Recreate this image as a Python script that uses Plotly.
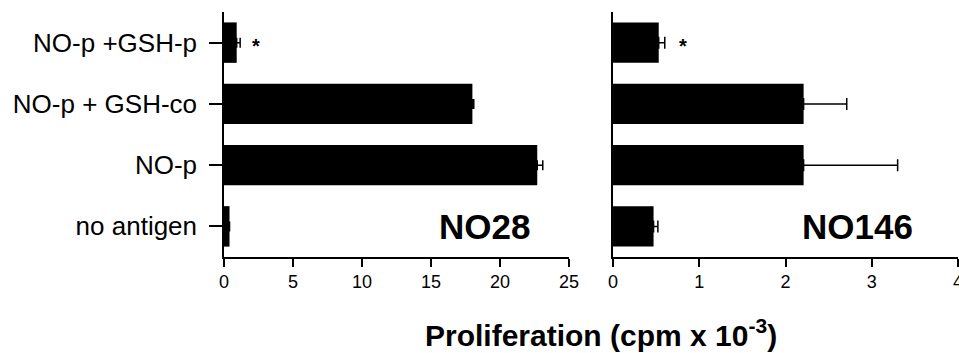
import plotly.graph_objects as go

categories = ["no antigen", "NO-p", "NO-p + GSH-co", "NO-p +GSH-p"]
no28_values = [0.4, 22.7, 18.0, 0.92]
no28_errors = [0.0, 0.4, 0.1, 0.25]
no146_values = [0.47, 2.21, 2.21, 0.53]
no146_errors = [0.05, 1.09, 0.5, 0.07]
no28_ticks = [0, 5, 10, 15, 20, 25]
no146_ticks = [0, 1, 2, 3, 4]

FONT = "Liberation Sans, Arial, sans-serif"

fig = go.Figure()
fig.add_trace(go.Bar(
    x=no28_values, y=categories, orientation="h", width=0.66,
    marker=dict(color="black", line=dict(width=0)),
    error_x=dict(type="data", array=no28_errors, arrayminus=[0]*4, symmetric=False,
                 color="black", thickness=1.5, width=5),
    xaxis="x", yaxis="y", showlegend=False))
fig.add_trace(go.Bar(
    x=no146_values, y=categories, orientation="h", width=0.66,
    marker=dict(color="black", line=dict(width=0)),
    error_x=dict(type="data", array=no146_errors, arrayminus=[0]*4, symmetric=False,
                 color="black", thickness=1.5, width=6),
    xaxis="x2", yaxis="y2", showlegend=False))

axis_common = dict(showline=True, linecolor="black", linewidth=1.5, showgrid=False,
                   zeroline=False, ticks="outside", tickcolor="black", tickwidth=1.5,
                   ticklen=8, automargin=False, ticklabeloverflow="allow",
                   tickfont=dict(family=FONT, size=18, color="black"))

fig.update_layout(
    width=959, height=353, autosize=False,
    margin=dict(l=224, r=1, t=12, b=96, autoexpand=False),
    plot_bgcolor="white", paper_bgcolor="white",
    bargap=0.34,
    xaxis=dict(domain=[0, 0.47], range=[0, 25], tickvals=no28_ticks, **axis_common),
    xaxis2=dict(domain=[0.53, 1], range=[0, 4], tickvals=no146_ticks, anchor="y2", **axis_common),
    yaxis=dict(range=[-0.5, 3.5], showline=True, linecolor="black", linewidth=1.5,
               showgrid=False, zeroline=False, ticks="outside", tickcolor="black",
               tickwidth=1.5, ticklen=13, ticklabelstandoff=7, automargin=False,
               tickfont=dict(family=FONT, size=26, color="black"),
               categoryorder="array", categoryarray=categories, anchor="x"),
    yaxis2=dict(range=[-0.5, 3.5], showline=True, linecolor="black", linewidth=1.5,
                showgrid=False, zeroline=False, ticks="", showticklabels=False,
                automargin=False,
                categoryorder="array", categoryarray=categories, anchor="x2"),
)

fig.add_annotation(text="<b>NO28</b>", x=18.9, y="no antigen", xref="x", yref="y",
                   showarrow=False, font=dict(family=FONT, size=35, color="black"))
fig.add_annotation(text="<b>NO146</b>", x=2.83, y="no antigen", xref="x2", yref="y2",
                   showarrow=False, font=dict(family=FONT, size=35, color="black"))
fig.add_annotation(text="<b>*</b>", x=2.3, y="NO-p +GSH-p", xref="x", yref="y",
                   showarrow=False, font=dict(family=FONT, size=20, color="black"), yshift=-3)
fig.add_annotation(text="<b>*</b>", x=0.81, y="NO-p +GSH-p", xref="x2", yref="y2",
                   showarrow=False, font=dict(family=FONT, size=20, color="black"), yshift=-3)
fig.add_annotation(text="<b>Proliferation (cpm x 10<sup>-3</sup>)</b>", x=0.5136, y=-0.31,
                   xref="paper", yref="paper", showarrow=False, yanchor="middle",
                   font=dict(family=FONT, size=30, color="black"))

post = ("document.body.style.margin='0';document.body.style.padding='0';"
        "document.body.style.overflow='hidden';"
        "document.documentElement.style.overflow='hidden';")

fig.write_html("out.html", config={"responsive": False, "displayModeBar": False},
               post_script=post)
